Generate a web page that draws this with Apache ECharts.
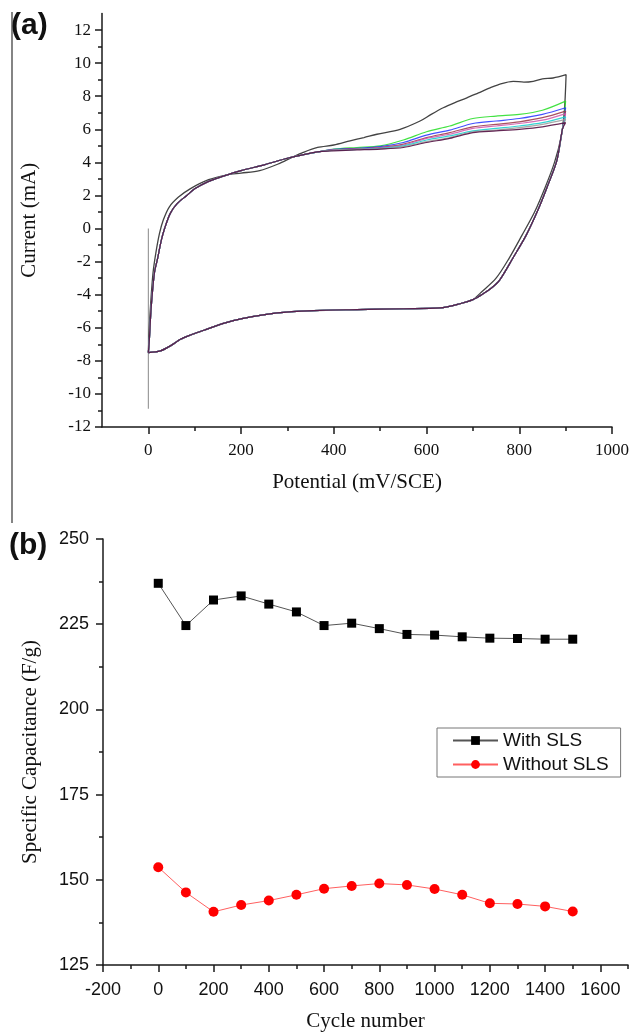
<!DOCTYPE html>
<html><head><meta charset="utf-8">
<script src="https://cdn.jsdelivr.net/npm/echarts@6/dist/echarts.min.js"></script>
<style>html,body{margin:0;padding:0;background:#fff}#c{width:633px;height:1033px}</style>
</head><body><div id="c"></div>
<script>
// ---------- Panel (a): cyclic voltammograms ----------
var cvXTicks = [0, 200, 400, 600, 800, 1000];
var cvXMinor = [100, 300, 500, 700, 900];
var cvYTicks = [-12, -10, -8, -6, -4, -2, 0, 2, 4, 6, 8, 10, 12];
var cvYMinor = [-11, -9, -7, -5, -3, -1, 1, 3, 5, 7, 9, 11];

// shared rising part of the anodic scan (later cycles)
var anodicStart = [[0,-7.5],[2,-6.8],[6,-4.8],[13,-2.7],[20,-1.8],[28,-0.7],[35,0],[47,0.9],[62,1.5],[83,2.0],[100,2.4],[130,2.85],[160,3.15],[200,3.5],[250,3.85],[300,4.25],[340,4.5],[370,4.65]];
// potentials of the anodic tail points
var tailX = [400, 450, 500, 550, 600, 650, 700, 750, 800, 850, 900];
var tailGreen  = [4.8, 4.9, 5.0, 5.35, 5.85, 6.2, 6.65, 6.8, 6.9, 7.15, 7.7];
var tailBlue   = [4.78, 4.85, 4.95, 5.2, 5.65, 5.95, 6.35, 6.5, 6.65, 6.9, 7.3];
var tailWine   = [4.75, 4.82, 4.9, 5.1, 5.5, 5.8, 6.15, 6.3, 6.45, 6.7, 7.1];
var tailMagenta= [4.75, 4.8, 4.88, 5.05, 5.45, 5.7, 6.05, 6.2, 6.35, 6.55, 6.95];
var tailCyan   = [4.72, 4.78, 4.85, 5.0, 5.35, 5.6, 5.9, 6.05, 6.2, 6.4, 6.75];
var tailGray   = [4.72, 4.78, 4.82, 4.95, 5.25, 5.5, 5.85, 5.95, 6.1, 6.3, 6.6];
var tailPurple = [4.7, 4.75, 4.8, 4.9, 5.2, 5.45, 5.8, 5.9, 6.0, 6.15, 6.4];
// shared cathodic (reverse) scan
var cathodic = [[893,6.0],[881,4.1],[860,2.5],[840,1.1],[815,-0.4],[787,-1.75],[758,-3.1],[740,-3.6],[722,-3.95],[700,-4.3],[672,-4.55],[629,-4.8],[550,-4.85],[450,-4.9],[356,-4.96],[278,-5.1],[202,-5.45],[160,-5.75],[120,-6.15],[90,-6.45],[69,-6.7],[50,-7.05],[26,-7.4],[0,-7.5]];
// first cycle
var firstAnodic = [[0,-7.5],[2,-6],[5,-4.5],[10,-2.7],[16,-1.5],[24,-0.3],[32,0.5],[45,1.3],[65,1.9],[90,2.4],[130,2.95],[170,3.25],[200,3.35],[240,3.5],[280,3.9],[310,4.3],[334,4.6],[365,4.9],[400,5.05],[435,5.3],[465,5.5],[493,5.7],[543,6.0],[586,6.5],[610,6.9],[636,7.3],[660,7.6],[687,7.9],[712,8.2],[737,8.5],[760,8.75],[787,8.9],[810,8.85],[830,8.9],[850,9.05],[873,9.1],[901,9.3]];
var firstCathodic = [[901,9.3],[897,7.0],[890,5.5],[876,4.0],[856,2.5],[833,1.0],[806,-0.4],[778,-1.8],[750,-3.0],[718,-3.85],[700,-4.3],[672,-4.55],[629,-4.8],[550,-4.85],[450,-4.9],[356,-4.96],[278,-5.1],[202,-5.45],[160,-5.75],[120,-6.15],[90,-6.45],[69,-6.7],[50,-7.05],[26,-7.4],[0,-7.5]];
var initialStep = [[0,0],[0,-10.9]];

// ---------- Panel (b): cycling stability ----------
var cycles = [0,100,200,300,400,500,600,700,800,900,1000,1100,1200,1300,1400,1500];
var withSLS = [237.0,224.6,232.1,233.3,230.9,228.6,224.6,225.3,223.7,222.0,221.8,221.3,220.9,220.8,220.6,220.6];
var withoutSLS = [153.7,146.3,140.6,142.6,143.9,145.6,147.4,148.2,148.9,148.5,147.3,145.6,143.1,142.9,142.2,140.7];
var capXTicks = [-200,0,200,400,600,800,1000,1200,1400,1600];
var capXMinor = [-100,100,300,500,700,900,1100,1300,1500,1700];
var capYTicks = [125,150,175,200,225,250];
var capYMinor = [137.5,162.5,187.5,212.5,237.5];

var SERIF = 'Liberation Serif';
var SANS = 'Liberation Sans';
var AX = '#1a1a1a';

function cycleCurve(tail) {
  var pts = anodicStart.slice();
  for (var i = 0; i < tailX.length; i++) pts.push([tailX[i], tail[i]]);
  return pts.concat(cathodic);
}
function pairs(xs, ys) { return xs.map(function (x, i) { return [x, ys[i]]; }); }

function mainAxis(o) {
  return {
    gridIndex: o.grid, type: 'value', min: o.min, max: o.max, interval: o.interval,
    position: o.position,
    axisLine: { show: true, onZero: false, lineStyle: { color: AX, width: 1.5 } },
    axisTick: { show: true, inside: false, length: 7, customValues: o.ticks, lineStyle: { color: AX, width: 1.5 } },
    axisLabel: { show: true, customValues: o.ticks, fontFamily: o.font, fontSize: o.fontSize, color: '#111', margin: o.margin,
      formatter: function (v) { return String(v); } },
    splitLine: { show: false },
    name: o.name, nameLocation: 'middle', nameGap: o.nameGap,
    nameTextStyle: { fontFamily: SERIF, fontSize: 21, color: '#111' }
  };
}
function minorAxis(o) {
  return {
    gridIndex: o.grid, type: 'value', min: o.min, max: o.max, interval: o.interval,
    position: o.position,
    axisLine: { show: false, onZero: false },
    axisTick: { show: true, inside: false, length: 4, customValues: o.ticks, lineStyle: { color: AX, width: 1.5 } },
    axisLabel: { show: false },
    splitLine: { show: false }
  };
}

function cvSeries(name, data, color, width, opacity) {
  return {
    name: name, type: 'line', xAxisIndex: 0, yAxisIndex: 0, data: data,
    showSymbol: false, symbol: 'none', silent: true, animation: false, smooth: 0.3,
    lineStyle: { color: color, width: width, opacity: opacity }
  };
}

var chart = echarts.init(document.getElementById('c'), null, { renderer: 'canvas' });
chart.setOption({
  animation: false,
  backgroundColor: '#fff',
  grid: [
    { left: 102, right: 21, top: 13.5, bottom: 606 },
    { left: 103, right: 5, top: 539, bottom: 67 }
  ],
  xAxis: [
    mainAxis({ grid: 0, min: -100, max: 1000, interval: 100, position: 'bottom', ticks: cvXTicks, font: SERIF, fontSize: 17, margin: 15, name: 'Potential (mV/SCE)', nameGap: 45 }),
    minorAxis({ grid: 0, min: -100, max: 1000, interval: 100, position: 'bottom', ticks: cvXMinor }),
    mainAxis({ grid: 1, min: -200, max: 1700, interval: 100, position: 'bottom', ticks: capXTicks, font: SANS, fontSize: 18, margin: 16, name: 'Cycle number', nameGap: 46 }),
    minorAxis({ grid: 1, min: -200, max: 1700, interval: 100, position: 'bottom', ticks: capXMinor })
  ],
  yAxis: [
    mainAxis({ grid: 0, min: -12, max: 13, interval: 1, position: 'left', ticks: cvYTicks, font: SERIF, fontSize: 17, margin: 11, name: 'Current (mA)', nameGap: 62 }),
    minorAxis({ grid: 0, min: -12, max: 13, interval: 1, position: 'left', ticks: cvYMinor }),
    mainAxis({ grid: 1, min: 125, max: 250, interval: 12.5, position: 'left', ticks: capYTicks, font: SANS, fontSize: 18, margin: 14, name: 'Specific Capacitance (F/g)', nameGap: 62 }),
    minorAxis({ grid: 1, min: 125, max: 250, interval: 12.5, position: 'left', ticks: capYMinor })
  ],
  legend: {
    data: ['With SLS', 'Without SLS'],
    orient: 'vertical', left: 437, top: 728,
    borderColor: '#777', borderWidth: 1, padding: [3, 12, 3, 15],
    itemWidth: 45, itemHeight: 11, itemGap: 5,
    textStyle: { fontFamily: SANS, fontSize: 19, color: '#111' }
  },
  graphic: [
    { type: 'line', shape: { x1: 12, y1: 12, x2: 12, y2: 523 }, style: { stroke: '#333', lineWidth: 1.2 } },
    { type: 'text', left: 11, top: 11, style: { text: '(a)', font: 'bold 30px "Liberation Sans"', fill: '#111' } },
    { type: 'text', left: 9, top: 531, style: { text: '(b)', font: 'bold 30px "Liberation Sans"', fill: '#111' } }
  ],
  series: [
    cvSeries('s0', initialStep, '#888888', 1.1, 0.9),
    cvSeries('c1', firstAnodic.concat(firstCathodic), '#222222', 1.3, 0.85),
    cvSeries('c2', cycleCurve(tailGreen), '#22dd22', 1.2, 0.85),
    cvSeries('c3', cycleCurve(tailBlue), '#2233ff', 1.2, 0.85),
    cvSeries('c4', cycleCurve(tailWine), '#993344', 1.2, 0.85),
    cvSeries('c5', cycleCurve(tailMagenta), '#cc55aa', 1.2, 0.85),
    cvSeries('c6', cycleCurve(tailCyan), '#11cccc', 1.2, 0.85),
    cvSeries('c7', cycleCurve(tailGray), '#999999', 1.2, 0.85),
    cvSeries('c8', cycleCurve(tailPurple), '#551144', 1.2, 0.9),
    {
      name: 'With SLS', type: 'line', xAxisIndex: 2, yAxisIndex: 2,
      data: pairs(cycles, withSLS),
      symbol: 'rect', symbolSize: 9,
      itemStyle: { color: '#000' },
      lineStyle: { color: '#555', width: 1 }
    },
    {
      name: 'Without SLS', type: 'line', xAxisIndex: 2, yAxisIndex: 2,
      data: pairs(cycles, withoutSLS),
      symbol: 'circle', symbolSize: 10,
      itemStyle: { color: '#ff0000' },
      lineStyle: { color: '#ff6060', width: 1 }
    }
  ]
});
</script>
</body></html>
